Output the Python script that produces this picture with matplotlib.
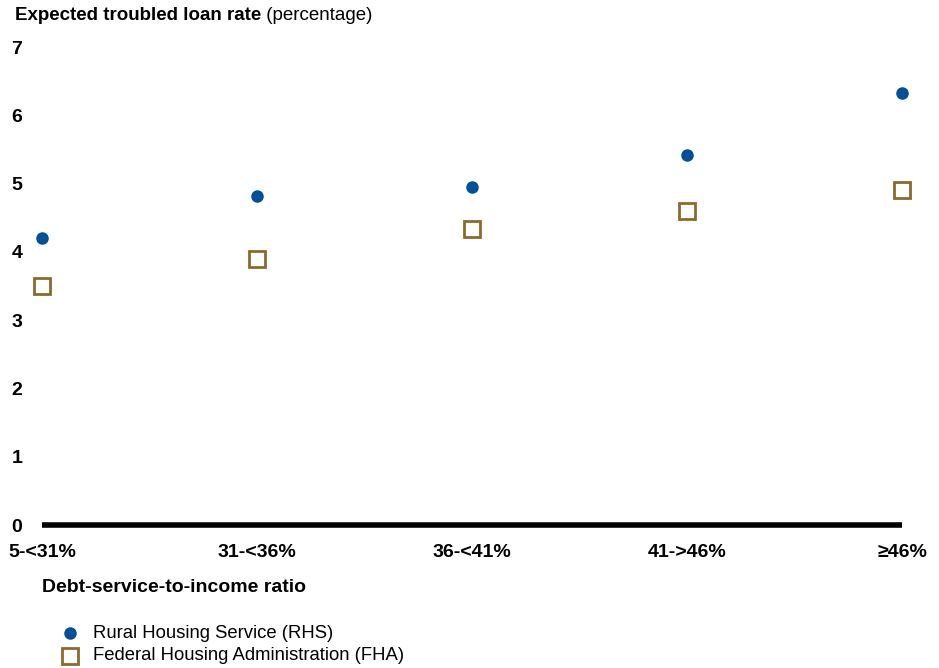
import numpy as np
import matplotlib.pyplot as plt

# data
categories = ["5-<31%", "31-<36%", "36-<41%", "41->46%", "\u226546%"]
rhs = [4.20, 4.82, 4.95, 5.42, 6.32]
fha = [3.50, 3.89, 4.33, 4.60, 4.90]
yticks = [0, 1, 2, 3, 4, 5, 6, 7]

plt.rcParams['font.family'] = ['Liberation Sans', 'DejaVu Sans']

blue = "#00509A"
gold = "#8B6A2A"

fig = plt.figure(figsize=(9.39, 6.68), dpi=100)
W, H = 939.0, 668.0
ax = fig.add_axes([42/W, 143/H, (902-42)/W, (621-143)/H])

x = np.arange(len(categories))
ax.plot(x, rhs, linestyle="none", marker="o", markersize=8, color=blue, clip_on=False, zorder=3)
ax.plot(x, fha, linestyle="none", marker="s", markersize=12, markerfacecolor="white",
        markeredgecolor=gold, markeredgewidth=2.0, clip_on=False, zorder=3)

ax.set_xlim(0, len(categories)-1)
ax.set_ylim(0, 7)
for s in ax.spines.values():
    s.set_visible(False)
ax.axhline(0, color="black", linewidth=4, clip_on=False, zorder=2, solid_capstyle="butt")

ax.set_yticks(yticks)
ax.set_yticklabels([str(v) for v in yticks], fontsize=14, fontweight="bold")
ax.set_xticks(x)
ax.set_xticklabels(categories, fontsize=14, fontweight="bold")
ax.tick_params(length=0)
ax.tick_params(axis="y", pad=17)
ax.tick_params(axis="x", pad=14)
for lab in ax.get_yticklabels():
    lab.set_horizontalalignment("center")
ax.tick_params(axis="y", pad=18)

# title: bold part then regular part
t = fig.text(15/W, 1 - 16/H, "Expected troubled loan rate", fontsize=13.5, fontweight="bold",
             va="center", ha="left")
ax.annotate(" (percentage)", xy=(1, 0), xycoords=t, va="bottom", ha="left", fontsize=13.5)

fig.text(42/W, 1 - 587/H, "Debt-service-to-income ratio", fontsize=14, fontweight="bold",
         va="center", ha="left")

# legend
fig.lines.append(plt.Line2D([70/W], [1 - 633/H], transform=fig.transFigure, marker="o",
                            markersize=8, color=blue, linestyle="none"))
fig.lines.append(plt.Line2D([70/W], [1 - 656/H], transform=fig.transFigure, marker="s",
                            markersize=12, markerfacecolor="white", markeredgecolor=gold,
                            markeredgewidth=2.0, linestyle="none"))
fig.text(93/W, 1 - 633/H, "Rural Housing Service (RHS)", fontsize=13.3, va="center", ha="left")
fig.text(93/W, 1 - 656/H, "Federal Housing Administration (FHA)", fontsize=13.3, va="center", ha="left")

fig.savefig("out.png", dpi=100)
